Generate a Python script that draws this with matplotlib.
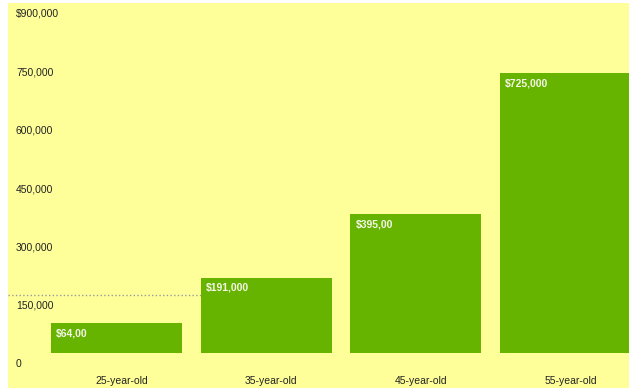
import matplotlib
matplotlib.use('Agg')
import matplotlib.pyplot as plt
from matplotlib.patches import Rectangle

# data
ages = ['25-year-old', '35-year-old', '45-year-old', '55-year-old']
savings = [77000, 193000, 357000, 720000]
bar_labels = ['$64,00', '$191,000', '$395,00', '$725,000']
ytick_values = [0, 150000, 300000, 450000, 600000, 750000, 900000]
ytick_labels = ['0', '150,000', '300,000', '450,000', '600,000', '750,000', '$900,000']
ref_line = 150000

YELLOW = '#ffff99'
GREEN = '#66b400'
TEXT = '#222222'

plt.rcParams['font.family'] = ['Liberation Sans', 'DejaVu Sans']

W, H = 629, 388
fig = plt.figure(figsize=(W / 100, H / 100), dpi=100)
fig.patch.set_facecolor('white')
fig.patches.append(Rectangle((8 / W, 0), 1, 385 / H, transform=fig.transFigure,
                             facecolor=YELLOW, edgecolor='none', zorder=0))

ax = fig.add_axes([8 / W, 35 / H, 621 / W, 350 / H])
ax.set_facecolor('none')
ax.set_zorder(1)

bw = 0.875
x = list(range(len(ages)))
ax.bar(x, savings, width=bw, color=GREEN, zorder=2)
ax.set_xlim(-0.725, 3.423)
ax.set_ylim(0, 900000)

# dotted reference line, stops at the second bar
ax.plot([-0.725, 1 - bw / 2], [ref_line, ref_line], linestyle=':', color='#999999',
        linewidth=1, zorder=1)

for i, lab in enumerate(bar_labels):
    ax.annotate(lab, (i - bw / 2, savings[i]), xytext=(5, -10), textcoords='offset pixels',
                ha='left', va='center', fontsize=7.5, fontweight='bold', color='#f5f5e8',
                zorder=3)

for v, lab in zip(ytick_values, ytick_labels):
    ax.annotate(lab, (0, v), xycoords=('axes fraction', 'data'), xytext=(8, -11),
                textcoords='offset pixels', ha='left', va='center', fontsize=7.5,
                color=TEXT, annotation_clip=False)

for i, lab in enumerate(ages):
    ax.annotate(lab, (i, 0), xytext=(5, -28), textcoords='offset pixels', ha='center',
                va='center', fontsize=7.5, color=TEXT, annotation_clip=False)

ax.set_xticks([])
ax.set_yticks([])
for s in ax.spines.values():
    s.set_visible(False)

fig.savefig('out.png', dpi=100)
